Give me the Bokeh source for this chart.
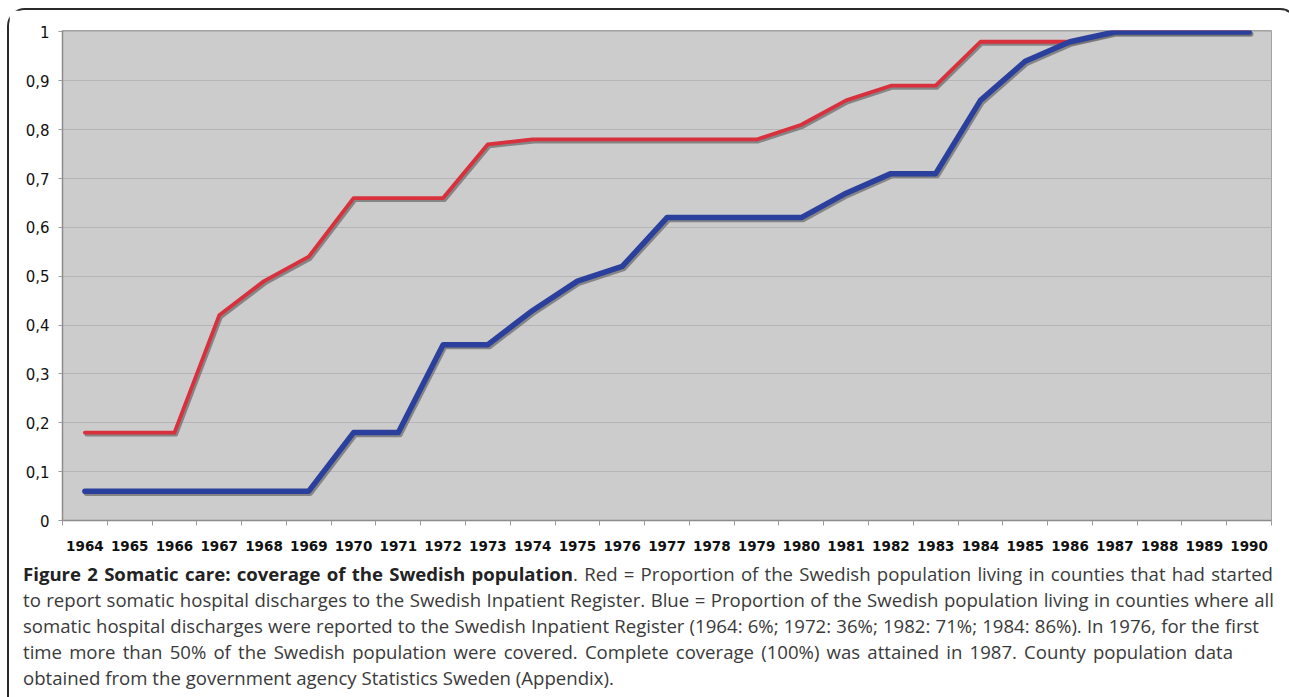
from bokeh.plotting import figure
from bokeh.models import FixedTicker, CustomJSTickFormatter, Div, Range1d, ColumnDataSource
from bokeh.layouts import column
from bokeh.embed import file_html
from bokeh.resources import INLINE

# ---- data ----
years = [1964, 1965, 1966, 1967, 1968, 1969, 1970, 1971, 1972, 1973, 1974, 1975, 1976, 1977,
         1978, 1979, 1980, 1981, 1982, 1983, 1984, 1985, 1986, 1987, 1988, 1989, 1990]
started = [0.18, 0.18, 0.18, 0.42, 0.49, 0.54, 0.66, 0.66, 0.66, 0.77, 0.78, 0.78, 0.78, 0.78,
           0.78, 0.78, 0.81, 0.86, 0.89, 0.89, 0.98, 0.98, 0.98, 1.0, 1.0, 1.0, 1.0]
complete = [0.06, 0.06, 0.06, 0.06, 0.06, 0.06, 0.18, 0.18, 0.36, 0.36, 0.43, 0.49, 0.52, 0.62,
            0.62, 0.62, 0.62, 0.67, 0.71, 0.71, 0.86, 0.94, 0.98, 1.0, 1.0, 1.0, 1.0]
y_ticks = [0, 0.1, 0.2, 0.3, 0.4, 0.5, 0.6, 0.7, 0.8, 0.9, 1.0]

caption_lines = [
    ("Figure 2 Somatic care: coverage of the Swedish population",
     ". Red = Proportion of the Swedish population living in counties that had started"),
    ("", "to report somatic hospital discharges to the Swedish Inpatient Register. Blue = Proportion of the Swedish population living in counties where all"),
    ("", "somatic hospital discharges were reported to the Swedish Inpatient Register (1964: 6%; 1972: 36%; 1982: 71%; 1984: 86%). In 1976, for the first"),
    ("", "time more than 50% of the Swedish population were covered. Complete coverage (100%) was attained in 1987. County population data"),
    ("", "obtained from the government agency Statistics Sweden (Appendix)."),
]
caption_widths = [1250, 1251, 1236, 1210, None]

RED = "#d8303c"
BLUE = "#2b3f9c"

p = figure(width=1277, height=552, output_backend="svg", toolbar_location=None,
           x_range=Range1d(1963.5, 1990.5), y_range=Range1d(0, 1.003),
           min_border_left=53, min_border_right=15, min_border_top=20, min_border_bottom=42)

p.background_fill_color = "#cccccc"
p.border_fill_color = "white"
p.outline_line_color = "#a3a3a3"
p.outline_line_width = 1

# shadows (offset a little down-right)
dx, dy = 0.035, 0.004
for vals, w in ((started, 4), (complete, 5.5)):
    src = ColumnDataSource(dict(x=[v + dx for v in years], y=[v - dy for v in vals]))
    p.line("x", "y", source=src, line_color="#6e6e6e", line_alpha=0.75, line_width=w,
           line_join="round", line_cap="round")

p.line(years, started, line_color=RED, line_width=3.8, line_join="round", line_cap="round")
p.line(years, complete, line_color=BLUE, line_width=5.5, line_join="round", line_cap="round")

# axes
p.xgrid.visible = False
p.ygrid.grid_line_color = "#b5b5b5"
p.ygrid.grid_line_width = 1
p.ygrid.ticker = FixedTicker(ticks=y_ticks)

xa = p.xaxis[0]
xa.ticker = FixedTicker(ticks=years, minor_ticks=[y - 0.5 for y in years] + [years[-1] + 0.5])
xa.major_tick_out = 0
xa.major_tick_in = 0
xa.minor_tick_out = 5
xa.minor_tick_in = 0
xa.minor_tick_line_color = "#9a9a9a"
xa.axis_line_color = "#8c8c8c"
xa.axis_line_width = 1.5
xa.major_label_text_font = "DejaVu Sans"
xa.major_label_text_font_style = "bold"
xa.major_label_text_font_size = "13.5px"
xa.major_label_text_color = "#111111"
xa.major_label_standoff = 15

ya = p.yaxis[0]
ya.ticker = FixedTicker(ticks=y_ticks)
ya.formatter = CustomJSTickFormatter(code="return (Math.round(tick*10)/10).toString().replace('.', ',');")
ya.major_tick_out = 4
ya.major_tick_in = 0
ya.minor_tick_out = 0
ya.minor_tick_in = 0
ya.major_tick_line_color = "#9a9a9a"
ya.axis_line_color = "#8c8c8c"
ya.axis_line_width = 1.5
ya.major_label_text_font = "DejaVu Sans"
ya.major_label_text_font_size = "15px"
ya.major_label_text_color = "#111111"
ya.major_label_standoff = 9

html_lines = []
for (bold, rest), w in zip(caption_lines, caption_widths):
    b = f"<b style='color:#222'>{bold}</b>" if bold else ""
    if w:
        st = f"width:{w}px; text-align:justify; text-align-last:justify"
    else:
        st = "white-space:nowrap"
    html_lines.append(f"<div style='{st}'>{b}{rest}</div>")

cap = Div(text="<div style='position:relative; top:-6px'>" + "".join(html_lines) + "</div>",
          width=1277, height=125,
          styles={"font-family": "'Open Sans'", "font-size": "18.6px", "line-height": "26px",
                  "color": "#3a3a3a", "padding-left": "9px", "overflow": "visible"})

layout = column(p, cap, spacing=0,
                styles={"border-top": "2px solid #2a2a2a", "border-left": "2px solid #2a2a2a",
                        "border-right": "2px solid #2a2a2a", "border-radius": "18px 18px 0 0",
                        "margin-left": "7px", "margin-top": "8px"})

open("out.html", "w").write(file_html(layout, INLINE))
